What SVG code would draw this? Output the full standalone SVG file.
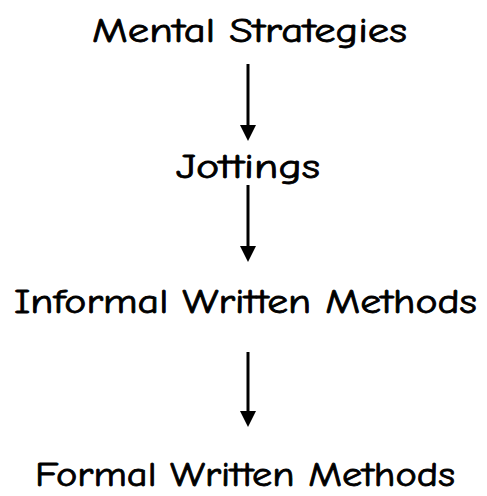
<svg xmlns="http://www.w3.org/2000/svg" width="487" height="496" viewBox="0 0 487 496">
  <style>
    .label { font-family: "Comic Sans MS", "Comic Neue", "DejaVu Sans", sans-serif; font-size: 34px; fill: #000; stroke: #000; stroke-width: 0.8; text-anchor: middle; }
    .edge { stroke: #000; stroke-width: 3; fill: none; }
    .tip { fill: #000; }
  </style>
  <rect width="487" height="496" fill="#fff"/>

  <!-- downward arrows between the stages -->
  <g id="connectors">
    <line class="edge" x1="248" y1="64" x2="248" y2="126"/>
    <path class="tip" d="M240,125 L256,125 L248,141 Z"/>
    <line class="edge" x1="248" y1="185" x2="248" y2="247"/>
    <path class="tip" d="M240,246 L256,246 L248,262 Z"/>
    <line class="edge" x1="248" y1="352" x2="248" y2="412"/>
    <path class="tip" d="M240,411 L256,411 L248,427 Z"/>
  </g>

  <g id="node-mental">
    <text class="label" x="249.5" y="42" textLength="315" lengthAdjust="spacingAndGlyphs">Mental Strategies</text>
  </g>
  <g id="node-jottings">
    <text class="label" x="248" y="178" textLength="144" lengthAdjust="spacingAndGlyphs">Jottings</text>
  </g>
  <g id="node-informal">
    <text class="label" x="245.5" y="313" textLength="463" lengthAdjust="spacingAndGlyphs">Informal Written Methods</text>
  </g>
  <g id="node-formal">
    <text class="label" x="245" y="486" textLength="420" lengthAdjust="spacingAndGlyphs">Formal Written Methods</text>
  </g>
</svg>
